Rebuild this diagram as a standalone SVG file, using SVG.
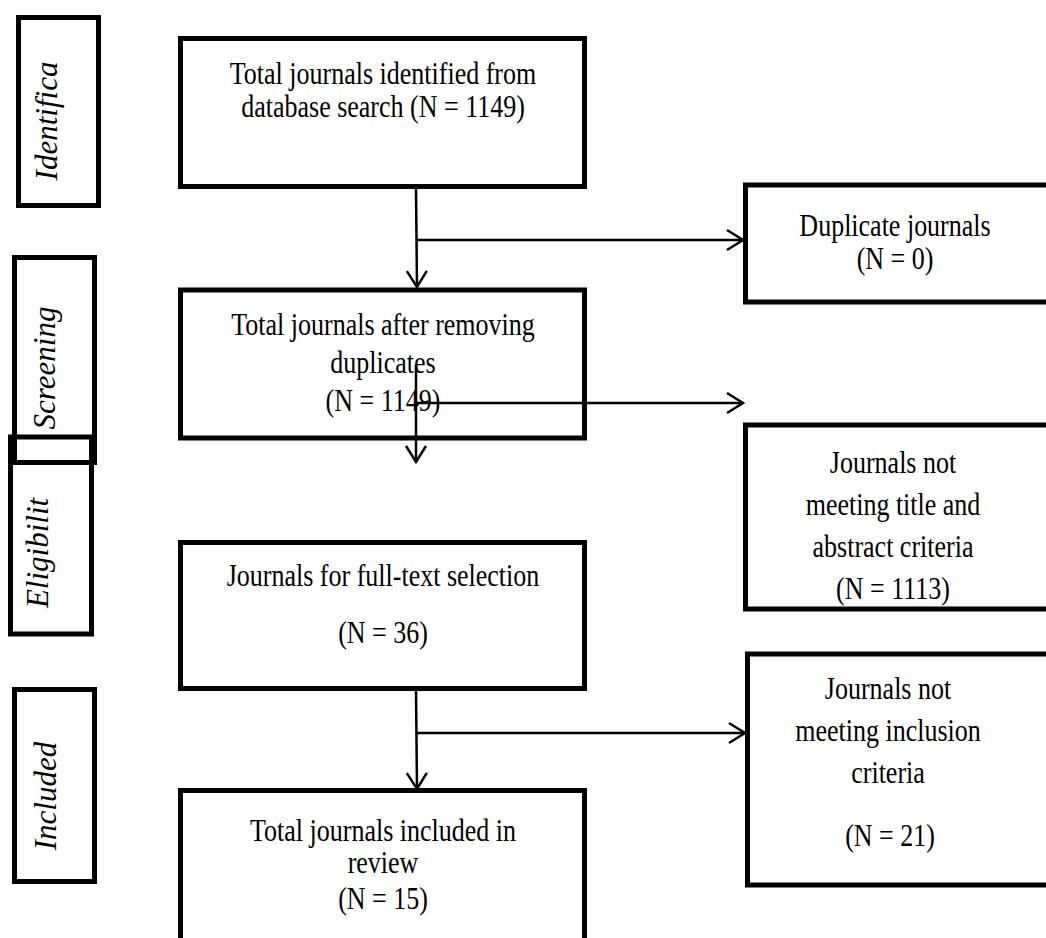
<svg xmlns="http://www.w3.org/2000/svg" width="1046" height="938" viewBox="0 0 1046 938">
<style>
.box{fill:none;stroke:#000;stroke-width:5}
.t{font-family:"Liberation Serif","Times New Roman",serif;font-size:26px;fill:#000;text-anchor:middle}
.side{font-family:"Liberation Serif","Times New Roman",serif;font-size:31px;font-style:italic;fill:#000;text-anchor:middle}
.c{fill:none;stroke:#000;stroke-width:2.5}
</style>
<defs>
<marker id="ah" markerUnits="userSpaceOnUse" markerWidth="30" markerHeight="30" refX="0" refY="0" viewBox="-20 -15 30 30" orient="auto" overflow="visible">
<path d="M-16,-10 L0,0 L-16,10" fill="none" stroke="#000" stroke-width="2.5"/>
</marker>
</defs>
<rect width="1046" height="938" fill="#fff"/>
<g id="stage-identification">
<rect class="box" x="18.5" y="17.5" width="80" height="188"/>
<text class="side" transform="translate(57,121) rotate(-90)">Identifica</text>
</g>
<g id="stage-screening">
<rect class="box" x="14.5" y="257.5" width="80" height="205"/>
<text class="side" transform="translate(55,368) rotate(-90)">Screening</text>
</g>
<g id="stage-eligibility">
<rect class="box" x="10.5" y="437" width="81" height="197"/>
<text class="side" transform="translate(48,553) rotate(-90)">Eligibilit</text>
</g>
<g id="stage-included">
<rect class="box" x="14.5" y="689.5" width="80" height="192"/>
<text class="side" transform="translate(56,796) rotate(-90)">Included</text>
</g>
<g id="n1">
<rect class="box" x="180.5" y="38.5" width="404" height="148"/>
<text class="t" transform="translate(383,84) scale(1,1.25)">Total journals identified from</text>
<text class="t" transform="translate(383,117) scale(1,1.25)">database search (N = 1149)</text>
</g>
<g id="n2">
<rect class="box" x="180.5" y="290" width="404" height="148"/>
<text class="t" transform="translate(383,335) scale(1,1.25)">Total journals after removing</text>
<text class="t" transform="translate(383,373) scale(1,1.25)">duplicates</text>
<text class="t" transform="translate(383,411) scale(1,1.25)">(N = 1149)</text>
</g>
<g id="n3">
<rect class="box" x="180.5" y="542.5" width="404" height="146"/>
<text class="t" transform="translate(383,586) scale(1,1.25)">Journals for full-text selection</text>
<text class="t" transform="translate(383,643) scale(1,1.25)">(N = 36)</text>
</g>
<g id="n4">
<rect class="box" x="180.5" y="790.5" width="404" height="160"/>
<text class="t" transform="translate(383,841) scale(1,1.25)">Total journals included in</text>
<text class="t" transform="translate(383,873) scale(1,1.25)">review</text>
<text class="t" transform="translate(383,909) scale(1,1.25)">(N = 15)</text>
</g>
<g id="r1">
<rect class="box" x="745.5" y="185" width="310" height="117"/>
<text class="t" transform="translate(895,236) scale(1,1.25)">Duplicate journals</text>
<text class="t" transform="translate(895,269) scale(1,1.25)">(N = 0)</text>
</g>
<g id="r2">
<rect class="box" x="745.5" y="425" width="310" height="184"/>
<text class="t" transform="translate(893,473) scale(1,1.25)">Journals not</text>
<text class="t" transform="translate(893,515) scale(1,1.25)">meeting title and</text>
<text class="t" transform="translate(893,557) scale(1,1.25)">abstract criteria</text>
<text class="t" transform="translate(893,599) scale(1,1.25)">(N = 1113)</text>
</g>
<g id="r3">
<rect class="box" x="747.5" y="654" width="310" height="231"/>
<text class="t" transform="translate(888,699) scale(1,1.25)">Journals not</text>
<text class="t" transform="translate(888,741) scale(1,1.25)">meeting inclusion</text>
<text class="t" transform="translate(888,783) scale(1,1.25)">criteria</text>
<text class="t" transform="translate(890,846) scale(1,1.25)">(N = 21)</text>
</g>
<g id="connectors">
<line class="c" x1="416" y1="189" x2="417" y2="287" marker-end="url(#ah)"/>
<line class="c" x1="417" y1="240" x2="743" y2="240" marker-end="url(#ah)"/>
<line class="c" x1="416" y1="365" x2="416" y2="462" marker-end="url(#ah)"/>
<line class="c" x1="416" y1="403" x2="743" y2="403" marker-end="url(#ah)"/>
<line class="c" x1="416" y1="690" x2="417" y2="789" marker-end="url(#ah)"/>
<line class="c" x1="417" y1="733" x2="745" y2="733" marker-end="url(#ah)"/>
</g>
</svg>
